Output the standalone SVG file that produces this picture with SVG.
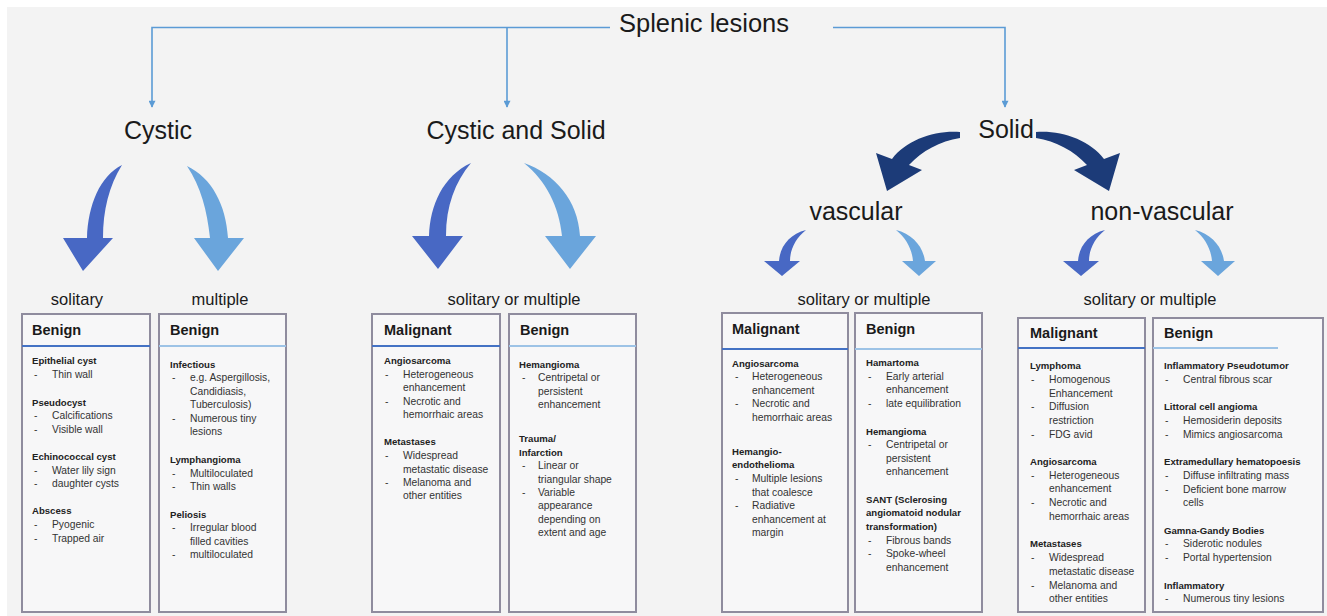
<svg xmlns="http://www.w3.org/2000/svg" width="1327" height="616" viewBox="0 0 1327 616">
<defs>
<style>
.lbl{font-family:"Liberation Sans",Arial,sans-serif;fill:#1a1a1a;text-anchor:middle}
.big{font-size:25px}
.mid{font-size:16.5px}
.box{fill:#f7f7f8;stroke:#8f8c9e;stroke-width:2}
.h{font-family:"Liberation Sans",Arial,sans-serif;font-weight:bold;font-size:14.5px;fill:#1a1a1a}
.t{font-family:"Liberation Sans",Arial,sans-serif;font-weight:bold;font-size:9.6px;fill:#222}
.b{font-family:"Liberation Sans",Arial,sans-serif;font-size:10.3px;fill:#333}
.dk{stroke:#4472c4;stroke-width:2}
.lt{stroke:#9dc3e6;stroke-width:2}
.con{fill:none;stroke:#5b9bd5;stroke-width:1.6}
.a1{fill:#4868c4}
.a2{fill:#6aa5dc}
.a3{fill:#1c3b78}
</style>
<marker id="ah" viewBox="0 0 10 10" refX="9" refY="5" markerWidth="8" markerHeight="7" markerUnits="userSpaceOnUse" orient="auto">
<path d="M0,0 L10,5 L0,10 z" fill="#5b9bd5"/>
</marker>
</defs>
<rect x="0" y="0" width="1327" height="616" fill="#ffffff"/>
<rect x="7" y="7" width="1320" height="609" fill="#f3f3f3"/>

<g id="connectors">
<path class="con" d="M610,27.5 H152 V107" marker-end="url(#ah)"/>
<path class="con" d="M507,27.5 V107" marker-end="url(#ah)"/>
<path class="con" d="M833,27.5 H1005 V107" marker-end="url(#ah)"/>
<path class="a1" d="M122,165 C100,176 88,205 87,238 L63,238 L83,271 L113,238 L103,238 C103,210 109,186 122,165 Z"/>
<path class="a2" d="M187,166 C212,178 226,205 228,238 L244,238 L218,271 L194,238 L210,238 C207,210 201,187 187,166 Z"/>
<path class="a1" d="M471,163 C443,176 430,205 429,236 L412,236 L438,269 L463,236 L446,236 C446,206 455,182 471,163 Z"/>
<path class="a2" d="M524,163 C555,174 578,200 580,236 L596,236 L570,269 L545,236 L562,236 C559,206 546,181 524,163 Z"/>
<path class="a3" d="M960,132 C935,130 906,140 892,159 L876,153 L887,191 L922,170 L909,165 C922,151 940,141 960,138 Z"/>
<path class="a3" transform="translate(1996,0) scale(-1,1)" d="M960,132 C935,130 906,140 892,159 L876,153 L887,191 L922,170 L909,165 C922,151 940,141 960,138 Z"/>
<path class="a1" d="M806,230 C790,234 780,246 779,261 L764,261 L782,276 L800,261 L790,261 C790,249 796,238 806,230 Z"/>
<path class="a2" d="M896,230 C912,234 923,246 925,261 L936,261 L919,276 L902,261 L913,261 C912,249 906,238 896,230 Z"/>
<path class="a1" transform="translate(299,0)" d="M806,230 C790,234 780,246 779,261 L764,261 L782,276 L800,261 L790,261 C790,249 796,238 806,230 Z"/>
<path class="a2" transform="translate(299,0)" d="M896,230 C912,234 923,246 925,261 L936,261 L919,276 L902,261 L913,261 C912,249 906,238 896,230 Z"/>
</g>

<g id="splenic-lesions"><text class="lbl" x="704" y="32" font-size="25.5px">Splenic lesions</text></g>
<g id="cystic"><text class="lbl big" x="158" y="139">Cystic</text></g>
<g id="cystic-solid"><text class="lbl big" x="516" y="139">Cystic and Solid</text></g>
<g id="solid"><text class="lbl big" x="1006" y="138">Solid</text></g>
<g id="vascular"><text class="lbl big" x="856" y="220">vascular</text></g>
<g id="non-vascular"><text class="lbl big" x="1162" y="220">non-vascular</text></g>
<g id="lbl-solitary"><text class="lbl mid" x="77" y="305">solitary</text></g>
<g id="lbl-multiple"><text class="lbl mid" x="220" y="305">multiple</text></g>
<g id="lbl-cs"><text class="lbl mid" x="514" y="305">solitary or multiple</text></g>
<g id="lbl-vasc"><text class="lbl mid" x="864" y="305">solitary or multiple</text></g>
<g id="lbl-nonvasc"><text class="lbl mid" x="1150" y="305">solitary or multiple</text></g>

<g id="box-cystic-solitary">
<rect class="box" x="22" y="314" width="128" height="298"/>
<text class="h" x="32" y="335">Benign</text>
<line class="dk" x1="22" y1="346" x2="150" y2="346"/>
<text class="t" x="32" y="364">Epithelial cyst</text>
<text class="b" x="34" y="378">-</text><text class="b" x="52" y="378">Thin wall</text>
<text class="t" x="32" y="405.5">Pseudocyst</text>
<text class="b" x="34" y="419">-</text><text class="b" x="52" y="419">Calcifications</text>
<text class="b" x="34" y="432.5">-</text><text class="b" x="52" y="432.5">Visible wall</text>
<text class="t" x="32" y="460">Echinococcal cyst</text>
<text class="b" x="34" y="473.5">-</text><text class="b" x="52" y="473.5">Water lily sign</text>
<text class="b" x="34" y="487">-</text><text class="b" x="52" y="487">daughter cysts</text>
<text class="t" x="32" y="514">Abscess</text>
<text class="b" x="34" y="528">-</text><text class="b" x="52" y="528">Pyogenic</text>
<text class="b" x="34" y="541.5">-</text><text class="b" x="52" y="541.5">Trapped air</text>
</g>

<g id="box-cystic-multiple">
<rect class="box" x="159" y="314" width="127" height="298"/>
<text class="h" x="170" y="335">Benign</text>
<line class="lt" x1="159" y1="346" x2="286" y2="346"/>
<text class="t" x="170" y="367.5">Infectious</text>
<text class="b" x="172" y="381">-</text><text class="b" x="190" y="381">e.g. Aspergillosis,</text>
<text class="b" x="190" y="394.5">Candidiasis,</text>
<text class="b" x="190" y="408">Tuberculosis)</text>
<text class="b" x="172" y="421.5">-</text><text class="b" x="190" y="421.5">Numerous tiny</text>
<text class="b" x="190" y="435">lesions</text>
<text class="t" x="170" y="462.5">Lymphangioma</text>
<text class="b" x="172" y="476.5">-</text><text class="b" x="190" y="476.5">Multiloculated</text>
<text class="b" x="172" y="490">-</text><text class="b" x="190" y="490">Thin walls</text>
<text class="t" x="170" y="517.5">Peliosis</text>
<text class="b" x="172" y="531">-</text><text class="b" x="190" y="531">Irregular blood</text>
<text class="b" x="190" y="544.5">filled cavities</text>
<text class="b" x="172" y="558">-</text><text class="b" x="190" y="558">multiloculated</text>
</g>

<g id="box-cs-malignant">
<rect class="box" x="372" y="314" width="128" height="298"/>
<text class="h" x="384" y="335">Malignant</text>
<line class="dk" x1="372" y1="346" x2="500" y2="346"/>
<text class="t" x="384" y="364">Angiosarcoma</text>
<text class="b" x="385" y="377.5">-</text><text class="b" x="403" y="377.5">Heterogeneous</text>
<text class="b" x="403" y="391">enhancement</text>
<text class="b" x="385" y="404.5">-</text><text class="b" x="403" y="404.5">Necrotic and</text>
<text class="b" x="403" y="418">hemorrhaic areas</text>
<text class="t" x="384" y="445">Metastases</text>
<text class="b" x="385" y="459">-</text><text class="b" x="403" y="459">Widespread</text>
<text class="b" x="403" y="472.5">metastatic disease</text>
<text class="b" x="385" y="486">-</text><text class="b" x="403" y="486">Melanoma and</text>
<text class="b" x="403" y="499">other entities</text>
</g>

<g id="box-cs-benign">
<rect class="box" x="509" y="314" width="127" height="298"/>
<text class="h" x="520" y="335">Benign</text>
<line class="lt" x1="509" y1="346" x2="636" y2="346"/>
<text class="t" x="519" y="367.5">Hemangioma</text>
<text class="b" x="522" y="381">-</text><text class="b" x="538" y="381">Centripetal or</text>
<text class="b" x="538" y="394.5">persistent</text>
<text class="b" x="538" y="408">enhancement</text>
<text class="t" x="519" y="442">Trauma/</text>
<text class="t" x="519" y="455.5">Infarction</text>
<text class="b" x="522" y="469">-</text><text class="b" x="538" y="469">Linear or</text>
<text class="b" x="538" y="482.5">triangular shape</text>
<text class="b" x="522" y="496">-</text><text class="b" x="538" y="496">Variable</text>
<text class="b" x="538" y="509">appearance</text>
<text class="b" x="538" y="522.5">depending on</text>
<text class="b" x="538" y="536">extent and age</text>
</g>

<g id="box-vasc-malignant">
<rect class="box" x="722" y="313" width="126" height="299"/>
<text class="h" x="732" y="334">Malignant</text>
<line class="dk" x1="722" y1="349" x2="848" y2="349"/>
<text class="t" x="732" y="366.5">Angiosarcoma</text>
<text class="b" x="735" y="380">-</text><text class="b" x="752" y="380">Heterogeneous</text>
<text class="b" x="752" y="393.5">enhancement</text>
<text class="b" x="735" y="407">-</text><text class="b" x="752" y="407">Necrotic and</text>
<text class="b" x="752" y="420.5">hemorrhaic areas</text>
<text class="t" x="732" y="454.5">Hemangio-</text>
<text class="t" x="732" y="468">endothelioma</text>
<text class="b" x="735" y="482">-</text><text class="b" x="752" y="482">Multiple lesions</text>
<text class="b" x="752" y="495.5">that coalesce</text>
<text class="b" x="735" y="509">-</text><text class="b" x="752" y="509">Radiative</text>
<text class="b" x="752" y="522.5">enhancement at</text>
<text class="b" x="752" y="536">margin</text>
</g>

<g id="box-vasc-benign">
<rect class="box" x="855" y="313" width="127" height="299"/>
<text class="h" x="866" y="334">Benign</text>
<line class="lt" x1="855" y1="349" x2="982" y2="349"/>
<text class="t" x="866" y="366">Hamartoma</text>
<text class="b" x="868" y="379.5">-</text><text class="b" x="886" y="379.5">Early arterial</text>
<text class="b" x="886" y="393">enhancement</text>
<text class="b" x="868" y="406.5">-</text><text class="b" x="886" y="406.5">late equilibration</text>
<text class="t" x="866" y="434.5">Hemangioma</text>
<text class="b" x="868" y="448">-</text><text class="b" x="886" y="448">Centripetal or</text>
<text class="b" x="886" y="461.5">persistent</text>
<text class="b" x="886" y="475">enhancement</text>
<text class="t" x="866" y="502.5">SANT (Sclerosing</text>
<text class="t" x="866" y="516">angiomatoid nodular</text>
<text class="t" x="866" y="529.5">transformation)</text>
<text class="b" x="868" y="543.5">-</text><text class="b" x="886" y="543.5">Fibrous bands</text>
<text class="b" x="868" y="557">-</text><text class="b" x="886" y="557">Spoke-wheel</text>
<text class="b" x="886" y="570.5">enhancement</text>
</g>

<g id="box-nonvasc-malignant">
<rect class="box" x="1018" y="318" width="127" height="294"/>
<text class="h" x="1030" y="338">Malignant</text>
<line class="dk" x1="1018" y1="348" x2="1145" y2="348"/>
<text class="t" x="1030" y="369">Lymphoma</text>
<text class="b" x="1031" y="382.5">-</text><text class="b" x="1049" y="382.5">Homogenous</text>
<text class="b" x="1049" y="396.5">Enhancement</text>
<text class="b" x="1031" y="410">-</text><text class="b" x="1049" y="410">Diffusion</text>
<text class="b" x="1049" y="424">restriction</text>
<text class="b" x="1031" y="437.5">-</text><text class="b" x="1049" y="437.5">FDG avid</text>
<text class="t" x="1030" y="464.5">Angiosarcoma</text>
<text class="b" x="1031" y="478.5">-</text><text class="b" x="1049" y="478.5">Heterogeneous</text>
<text class="b" x="1049" y="492">enhancement</text>
<text class="b" x="1031" y="506">-</text><text class="b" x="1049" y="506">Necrotic and</text>
<text class="b" x="1049" y="520">hemorrhaic areas</text>
<text class="t" x="1030" y="546.5">Metastases</text>
<text class="b" x="1031" y="561">-</text><text class="b" x="1049" y="561">Widespread</text>
<text class="b" x="1049" y="575">metastatic disease</text>
<text class="b" x="1031" y="588.5">-</text><text class="b" x="1049" y="588.5">Melanoma and</text>
<text class="b" x="1049" y="601.5">other entities</text>
</g>

<g id="box-nonvasc-benign">
<rect class="box" x="1153" y="318" width="170" height="294"/>
<text class="h" x="1164" y="338">Benign</text>
<line class="lt" x1="1153" y1="348" x2="1278" y2="348"/>
<text class="t" x="1164" y="369">Inflammatory Pseudotumor</text>
<text class="b" x="1165" y="382.5">-</text><text class="b" x="1183" y="382.5">Central fibrous scar</text>
<text class="t" x="1164" y="410">Littoral cell angioma</text>
<text class="b" x="1165" y="424">-</text><text class="b" x="1183" y="424">Hemosiderin deposits</text>
<text class="b" x="1165" y="437.5">-</text><text class="b" x="1183" y="437.5">Mimics angiosarcoma</text>
<text class="t" x="1164" y="465">Extramedullary hematopoesis</text>
<text class="b" x="1165" y="479">-</text><text class="b" x="1183" y="479">Diffuse infiltrating mass</text>
<text class="b" x="1165" y="492.5">-</text><text class="b" x="1183" y="492.5">Deficient bone marrow</text>
<text class="b" x="1183" y="506">cells</text>
<text class="t" x="1164" y="533.5">Gamna-Gandy Bodies</text>
<text class="b" x="1165" y="547">-</text><text class="b" x="1183" y="547">Siderotic nodules</text>
<text class="b" x="1165" y="560.5">-</text><text class="b" x="1183" y="560.5">Portal hypertension</text>
<text class="t" x="1164" y="588.5">Inflammatory</text>
<text class="b" x="1165" y="601.5">-</text><text class="b" x="1183" y="601.5">Numerous tiny lesions</text>
</g>
</svg>
